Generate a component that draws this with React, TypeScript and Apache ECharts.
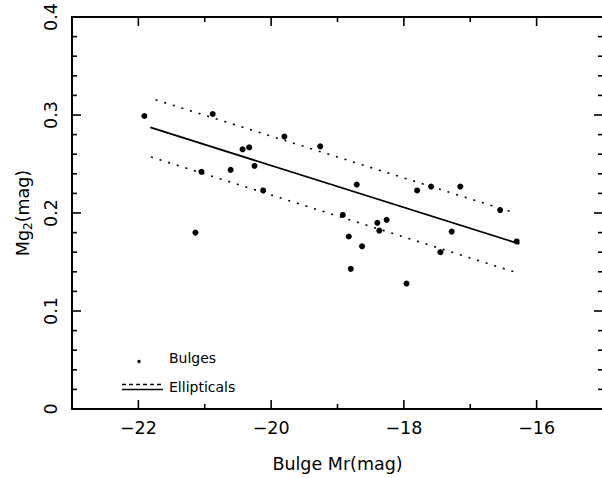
import React, { useEffect, useRef } from "react";
import * as echarts from "echarts";

// Bulge data points (Mr, Mg2)
const bulgeMr = [
  -21.91, -20.88, -20.43, -20.33, -21.05, -20.61, -20.25, -20.12, -21.14,
  -19.8, -19.26, -18.92, -18.83, -18.71, -18.8, -18.63, -18.4, -18.26,
  -18.37, -17.96, -17.8, -17.59, -17.15, -17.45, -17.28, -16.55, -16.3,
];
const bulgeMg2 = [
  0.299, 0.301, 0.265, 0.267, 0.242, 0.244, 0.248, 0.223, 0.18, 0.278,
  0.268, 0.198, 0.176, 0.229, 0.143, 0.166, 0.19, 0.193, 0.182, 0.128,
  0.223, 0.227, 0.227, 0.16, 0.181, 0.203, 0.171,
];

// Ellipticals relation (fit line and +/- scatter)
const fitMr = [-21.82, -16.26];
const fitMg2 = [0.2873, 0.1686];
const upperMr = [-21.74, -16.36];
const upperMg2 = [0.3155, 0.2008];
const lowerMr = [-21.81, -16.3];
const lowerMg2 = [0.2572, 0.1391];

// Axes
const xRange = [-23, -15];
const yRange = [0, 0.4];
const xMajorTicks = [-22, -20, -18, -16];
const xMinorTicks = [-21, -19, -17];
const yMajorTicks = [0.1, 0.2, 0.3];
const yMinorTicks = [
  0.02, 0.04, 0.06, 0.08, 0.12, 0.14, 0.16, 0.18, 0.22, 0.24, 0.26, 0.28,
  0.32, 0.34, 0.36, 0.38,
];

const FONT = "DejaVu Sans";

function pairs(xs: number[], ys: number[]) {
  return xs.map((x, i) => [x, ys[i]]);
}

export default function App() {
  const ref = useRef<HTMLDivElement>(null);
  useEffect(() => {
    if (!ref.current) return;
    const chart = echarts.init(ref.current, undefined, { renderer: "svg" });
    const tickLine = { stroke: "#000", lineWidth: 1.6 };
    const lineAxis = { show: true, onZero: false, lineStyle: { color: "#000", width: 2 } };
    const xAxis = (position: string, showLabel: boolean) => ({
      type: "value",
      position,
      min: xRange[0],
      max: xRange[1],
      interval: 1,
      axisLine: lineAxis,
      splitLine: { show: false },
      axisTick: { show: false },
      axisLabel: {
        show: showLabel,
        margin: 10,
        color: "#000",
        fontFamily: FONT,
        fontSize: 17.5,
        formatter: (v: number) =>
          xMajorTicks.indexOf(v) >= 0 ? (v < 0 ? "\u2212" + Math.abs(v) : String(v)) : "",
      },
    });
    const yAxis = (position: string, showLabel: boolean) => ({
      type: "value",
      position,
      min: yRange[0],
      max: yRange[1],
      interval: 0.1,
      axisLine: lineAxis,
      splitLine: { show: false },
      axisTick: { show: false },
      axisLabel: {
        show: showLabel,
        rotate: 90,
        margin: 12,
        color: "#000",
        fontFamily: FONT,
        fontSize: 17.5,
        formatter: (v: number) => (v === 0 ? "0" : v.toFixed(1)),
      },
    });
    const dotted = { color: "#000", width: 1.6, type: [2, 7] as any };
    const xTickData = [
      ...xMajorTicks.map((v) => [v, 1]),
      ...xMinorTicks.map((v) => [v, 0]),
    ];
    const yTickData = [
      ...yMajorTicks.map((v) => [v, 1]),
      ...yMinorTicks.map((v) => [v, 0]),
    ];
    chart.setOption({
      animation: false,
      backgroundColor: "#fff",
      grid: { left: 72, right: 2, top: 17, bottom: 68, containLabel: false },
      xAxis: [
        {
          ...xAxis("bottom", true),
          name: "Bulge Mr(mag)",
          nameLocation: "middle",
          nameGap: 46,
          nameTextStyle: { color: "#000", fontFamily: FONT, fontSize: 17.5 },
        },
        xAxis("top", false),
      ],
      yAxis: [
        {
          ...yAxis("left", true),
          name: "{a|Mg}{s|2}{a|(mag)}",
          nameLocation: "middle",
          nameRotate: 90,
          nameGap: 38,
          nameTextStyle: {
            color: "#000",
            fontFamily: FONT,
            fontSize: 17.5,
            rich: {
              a: { fontFamily: FONT, fontSize: 17.5, color: "#000", lineHeight: 20, verticalAlign: "top" },
              s: { fontFamily: FONT, fontSize: 12, color: "#000", lineHeight: 11, verticalAlign: "bottom" },
            },
          },
        },
        yAxis("right", false),
      ],
      series: [
        {
          type: "custom",
          name: "xTicks",
          xAxisIndex: 0,
          yAxisIndex: 0,
          silent: true,
          data: xTickData,
          renderItem: (_p: any, api: any) => {
            const v = api.value(0);
            const len = api.value(1) === 1 ? 9 : 5;
            const b = api.coord([v, yRange[0]]);
            const t = api.coord([v, yRange[1]]);
            return {
              type: "group",
              children: [
                { type: "line", shape: { x1: b[0], y1: b[1], x2: b[0], y2: b[1] - len }, style: tickLine },
                { type: "line", shape: { x1: t[0], y1: t[1], x2: t[0], y2: t[1] + len }, style: tickLine },
              ],
            };
          },
        },
        {
          type: "custom",
          name: "yTicks",
          xAxisIndex: 0,
          yAxisIndex: 0,
          silent: true,
          data: yTickData,
          renderItem: (_p: any, api: any) => {
            const v = api.value(0);
            const len = api.value(1) === 1 ? 9 : 5;
            const l = api.coord([xRange[0], v]);
            const r = api.coord([xRange[1], v]);
            return {
              type: "group",
              children: [
                { type: "line", shape: { x1: l[0], y1: l[1], x2: l[0] + len, y2: l[1] }, style: tickLine },
                { type: "line", shape: { x1: r[0], y1: r[1], x2: r[0] - len, y2: r[1] }, style: tickLine },
              ],
            };
          },
        },
        {
          type: "scatter",
          name: "Bulges",
          xAxisIndex: 0,
          yAxisIndex: 0,
          data: pairs(bulgeMr, bulgeMg2),
          symbol: "circle",
          symbolSize: 6,
          itemStyle: { color: "#000", opacity: 1 },
        },
        {
          type: "line",
          name: "Ellipticals",
          xAxisIndex: 0,
          yAxisIndex: 0,
          data: pairs(fitMr, fitMg2),
          showSymbol: false,
          lineStyle: { color: "#000", width: 1.8 },
        },
        {
          type: "line",
          xAxisIndex: 0,
          yAxisIndex: 0,
          data: pairs(upperMr, upperMg2),
          showSymbol: false,
          lineStyle: dotted,
        },
        {
          type: "line",
          xAxisIndex: 0,
          yAxisIndex: 0,
          data: pairs(lowerMr, lowerMg2),
          showSymbol: false,
          lineStyle: dotted,
        },
      ],
      graphic: [
        { type: "circle", shape: { cx: 139, cy: 361.5, r: 1.7 }, style: { fill: "#000" } },
        {
          type: "text",
          x: 169,
          y: 358,
          style: { text: "Bulges", fill: "#000", font: `14px "${FONT}"`, verticalAlign: "middle", align: "left" },
        },
        {
          type: "line",
          shape: { x1: 122, y1: 384.5, x2: 163, y2: 384.5 },
          style: { stroke: "#000", lineWidth: 1.4, lineDash: [4, 3] },
        },
        {
          type: "line",
          shape: { x1: 122, y1: 389.5, x2: 163, y2: 389.5 },
          style: { stroke: "#000", lineWidth: 1.6 },
        },
        {
          type: "text",
          x: 169,
          y: 387,
          style: { text: "Ellipticals", fill: "#000", font: `14px "${FONT}"`, verticalAlign: "middle", align: "left" },
        },
      ],
    });
    return () => chart.dispose();
  }, []);
  return (
    <div
      style={{
        position: "fixed",
        left: 0,
        top: 0,
        width: 602,
        height: 478,
        overflow: "hidden",
        background: "#fff",
      }}
    >
      <div ref={ref} style={{ width: 606, height: 478 }} />
    </div>
  );
}
